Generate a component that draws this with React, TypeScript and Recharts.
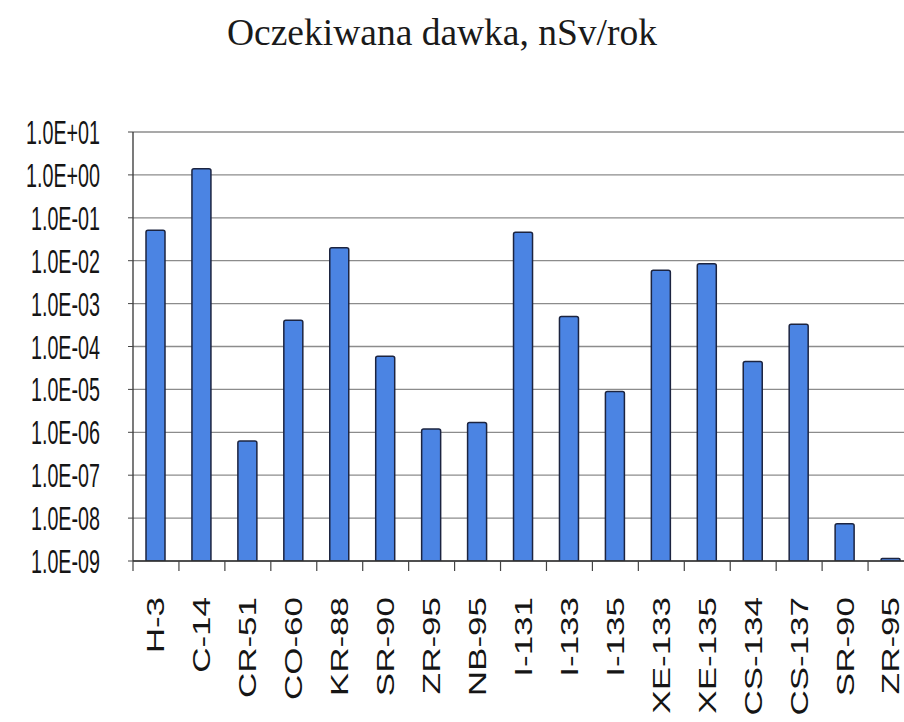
import React from 'react';
import { BarChart, Bar, XAxis, YAxis, CartesianGrid } from 'recharts';

// nuclides (two of them appear twice in the original table)
const nuclides = [
  'H-3', 'C-14', 'CR-51', 'CO-60', 'KR-88', 'SR-90', 'ZR-95', 'NB-95',
  'I-131', 'I-133', 'I-135', 'XE-133', 'XE-135', 'CS-134', 'CS-137', 'SR-90', 'ZR-95'
];

// expected dose, nSv/year
const doses = [
  5.1e-2, 1.4, 6.3e-7, 4.1e-4, 2.0e-2, 5.9e-5, 1.2e-6, 1.7e-6,
  4.6e-2, 5.0e-4, 8.9e-6, 6.0e-3, 8.5e-3, 4.5e-5, 3.3e-4, 7.4e-9, 1.15e-9
];

const yTicks = [1e-9, 1e-8, 1e-7, 1e-6, 1e-5, 1e-4, 1e-3, 1e-2, 1e-1, 1e0, 1e1];

const data = nuclides.map((name, i) => ({ name, dose: doses[i] }));

const CHART_W = 940;
const CHART_H = 722;
const Y_AXIS_W = 133;
const MARGIN = { top: 132, right: 26, left: 0, bottom: 11 };
const X_AXIS_H = 150;
const BAND = (CHART_W - Y_AXIS_W - MARGIN.right - MARGIN.left) / nuclides.length;

const fmtExp = (v: number) => {
  const e = Math.round(Math.log10(v));
  const sign = e < 0 ? '-' : '+';
  return `1.0E${sign}${String(Math.abs(e)).padStart(2, '0')}`;
};

const YTick = ({ x, y, payload }: any) => (
  <g transform={`translate(${x},${y}) scale(0.58,1)`}>
    <text
      x={0}
      y={0}
      dy="0.355em"
      textAnchor="end"
      fill="#151515"
      style={{ fontFamily: '"Liberation Sans", Arial, sans-serif', fontSize: 34 }}
    >
      {fmtExp(payload.value)}
    </text>
  </g>
);

// Excel-like category tick: mark between categories, label turned up
const XTick = ({ x, y, payload }: any) => {
  const axisY = y - 36;
  return (
    <g>
      <line x1={x - BAND / 2} x2={x - BAND / 2} y1={axisY} y2={axisY + 10} stroke="#444" strokeWidth={1.2} />
      <g transform={`translate(${x},${y}) scale(0.69,1) rotate(-90)`}>
        <text
          x={0}
          y={0}
          dy="0.35em"
          textAnchor="end"
          fill="#151515"
          style={{ fontFamily: '"Liberation Sans", Arial, sans-serif', fontSize: 35 }}
        >
          {payload.value}
        </text>
      </g>
    </g>
  );
};

export default function App() {
  return (
    <div style={{ position: 'absolute', left: 0, top: 0, width: 904, height: 722, overflow: 'hidden', background: '#fff' }}>
      <svg width={904} height={80} style={{ position: 'absolute', left: 0, top: 0 }}>
        <text
          x={442}
          y={45}
          textAnchor="middle"
          fill="#1a1a1a"
          style={{ fontFamily: '"Liberation Serif", "Times New Roman", serif', fontSize: 37.5 }}
        >
          Oczekiwana dawka, nSv/rok
        </text>
      </svg>
      <div style={{ position: 'absolute', left: 0, top: 0 }}>
        <BarChart width={CHART_W} height={CHART_H} data={data} margin={MARGIN}>
          <CartesianGrid vertical={false} stroke="#8c8c8c" strokeWidth={1.3} />
          <XAxis
            dataKey="name"
            height={X_AXIS_H}
            interval={0}
            axisLine={{ stroke: '#333', strokeWidth: 1.3 }}
            tickLine={false}
            tickSize={8}
            tickMargin={28}
            tick={<XTick />}
          />
          <YAxis
            scale="log"
            domain={[1e-9, 10]}
            ticks={yTicks}
            allowDataOverflow
            width={Y_AXIS_W}
            interval={0}
            axisLine={{ stroke: '#333', strokeWidth: 1.3 }}
            tickLine={{ stroke: '#444' }}
            tickSize={5}
            tickMargin={28}
            tick={<YTick />}
          />
          <Bar
            dataKey="dose"
            fill="#4b84e3"
            stroke="#1c2440"
            strokeWidth={1.5}
            barSize={19}
            radius={[2, 2, 0, 0]}
            isAnimationActive={false}
          />
        </BarChart>
      </div>
    </div>
  );
}
